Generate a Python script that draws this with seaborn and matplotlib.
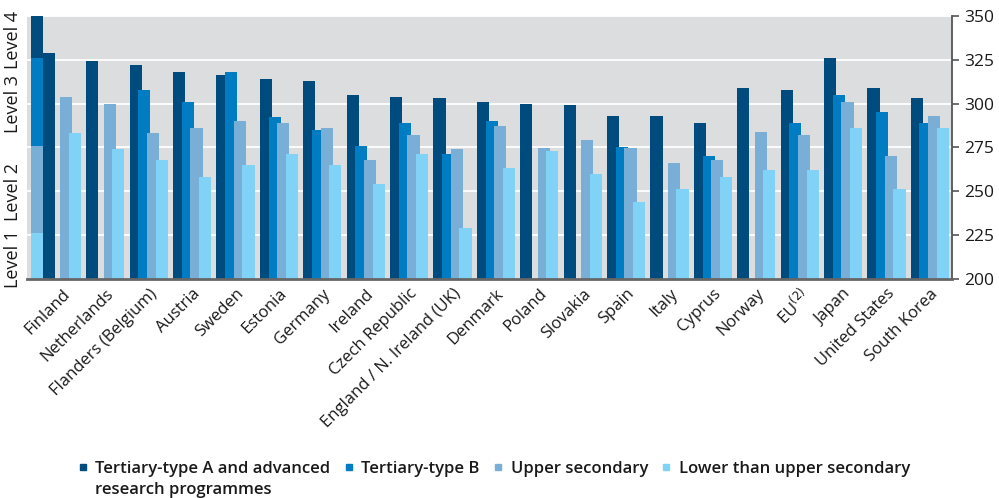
import numpy as np
import pandas as pd
import seaborn as sns
from matplotlib import pyplot as plt
from matplotlib.lines import Line2D

countries = ["Finland", "Netherlands", "Flanders (Belgium)", "Austria", "Sweden",
             "Estonia", "Germany", "Ireland", "Czech Republic",
             "England / N. Ireland (UK)", "Denmark", "Poland", "Slovakia", "Spain",
             "Italy", "Cyprus", "Norway", r"EU$^{(2)}$", "Japan", "United States",
             "South Korea"]
nan = np.nan
tertiary_a = [329, 324.5, 322, 318, 316.5, 314, 313, 305, 304, 303, 301, 300, 299,
              293, 293, 289, 309, 308, 326, 309, 303]
tertiary_b = [nan, nan, 308, 301, 318, 292.5, 285, 276, 289, 271, 290, nan, nan,
              275, nan, 270, nan, 289, 305, 295, 289]
upper_sec = [303.5, 300, 283, 286, 290, 289, 286, 268, 282, 274, 287, 274.5, 279,
             274.5, 266, 268, 284, 282, 301, 270, 293]
lower_sec = [283, 274, 268, 258, 265, 271, 265, 254, 271, 229, 263, 273, 260,
             244, 251, 258, 262, 262, 286, 251, 286]

series = ["Tertiary-type A and advanced", "Tertiary-type B",
          "Upper secondary", "Lower than upper secondary"]
series_extra = "research programmes"  # second line of the first legend entry
colors = ["#004B7D", "#007CC3", "#79AFD6", "#80D3F6"]

level_names = ["Level 1", "Level 2", "Level 3", "Level 4"]
level_bounds = [200, 226, 276, 326, 350]
level_colors = ["#80D3F6", "#79AFD6", "#007CC3", "#004B7D"]

df = pd.DataFrame({"country": countries, series[0]: tertiary_a, series[1]: tertiary_b,
                   series[2]: upper_sec, series[3]: lower_sec})
df = df.melt(id_vars="country", var_name="level", value_name="score").dropna()

sns.set_theme(style="darkgrid", rc={"axes.facecolor": "#DCDDDF", "grid.color": "white",
                                    "grid.linewidth": 1.3})
plt.rcParams["font.family"] = ["Open Sans", "DejaVu Sans"]
text_color = "#1a1a1a"

fig = plt.figure(figsize=(9.99, 4.98), dpi=100)
ax = fig.add_axes([0.027, 0.44, 0.926, 0.528])

sns.barplot(data=df, x="country", y="score", hue="level", order=countries,
            hue_order=series, palette=colors, width=0.8, dodge=True, saturation=1,
            errorbar=None, legend=False, linewidth=0, ax=ax)

# overlap the bars a little, like the original
for p in ax.patches:
    c = p.get_x() + p.get_width() / 2
    p.set_width(0.28)
    p.set_x(c - 0.14)

# level scale column on the left
ax.bar([-0.576] * 4, np.diff(level_bounds), bottom=level_bounds[:-1], width=0.276,
       color=level_colors, linewidth=0)
for i, name in enumerate(level_names):
    ax.text(-0.015, (level_bounds[i] + level_bounds[i + 1]) / 2 - 1.5, name,
            transform=ax.get_yaxis_transform(), rotation=90, ha="center", va="center",
            fontsize=13, fontweight="medium", color=text_color)

ax.set_ylim(200, 350)
ax.set_xlim(-0.806, 20.51)
ax.set_yticks(range(200, 351, 25))
ax.yaxis.tick_right()
ax.xaxis.grid(False)
ax.set_xlabel("")
ax.set_ylabel("")
ax.set_xticks(range(len(countries)))
ax.set_xticklabels(countries, rotation=45, ha="right", rotation_mode="anchor",
                   fontsize=12, fontweight="medium", color=text_color)
ax.tick_params(axis="x", length=0, pad=5)
ax.tick_params(axis="y", right=True, direction="out", length=5, width=1.2,
               color="#555555", labelsize=12.5, labelcolor=text_color, pad=4)
for lbl in ax.get_yticklabels():
    lbl.set_fontweight("medium")
for s in ["left", "top"]:
    ax.spines[s].set_visible(False)
ax.spines["right"].set_visible(True)
ax.spines["right"].set_color("#555555")
ax.spines["right"].set_linewidth(1.3)
ax.spines["bottom"].set_visible(True)
ax.spines["bottom"].set_color("#666666")
ax.spines["bottom"].set_linewidth(2)

handles = [Line2D([], [], marker="s", linestyle="none", markersize=5, color=c)
           for c in colors]
leg = fig.legend(handles, series, loc="upper center", bbox_to_anchor=(0.494, 0.104),
                 ncol=4, frameon=False, prop={"size": 12, "weight": "semibold"},
                 handletextpad=0.4, columnspacing=0.75, handlelength=0.7,
                 labelcolor=text_color)

fig.canvas.draw()
bb = leg.get_texts()[0].get_window_extent()
x0, y0 = fig.transFigure.inverted().transform((bb.x0, bb.y0))
fig.text(x0, y0 - 0.01, series_extra, ha="left", va="top", fontsize=12,
         fontweight="semibold", color=text_color)

fig.savefig("out.png", dpi=100)
